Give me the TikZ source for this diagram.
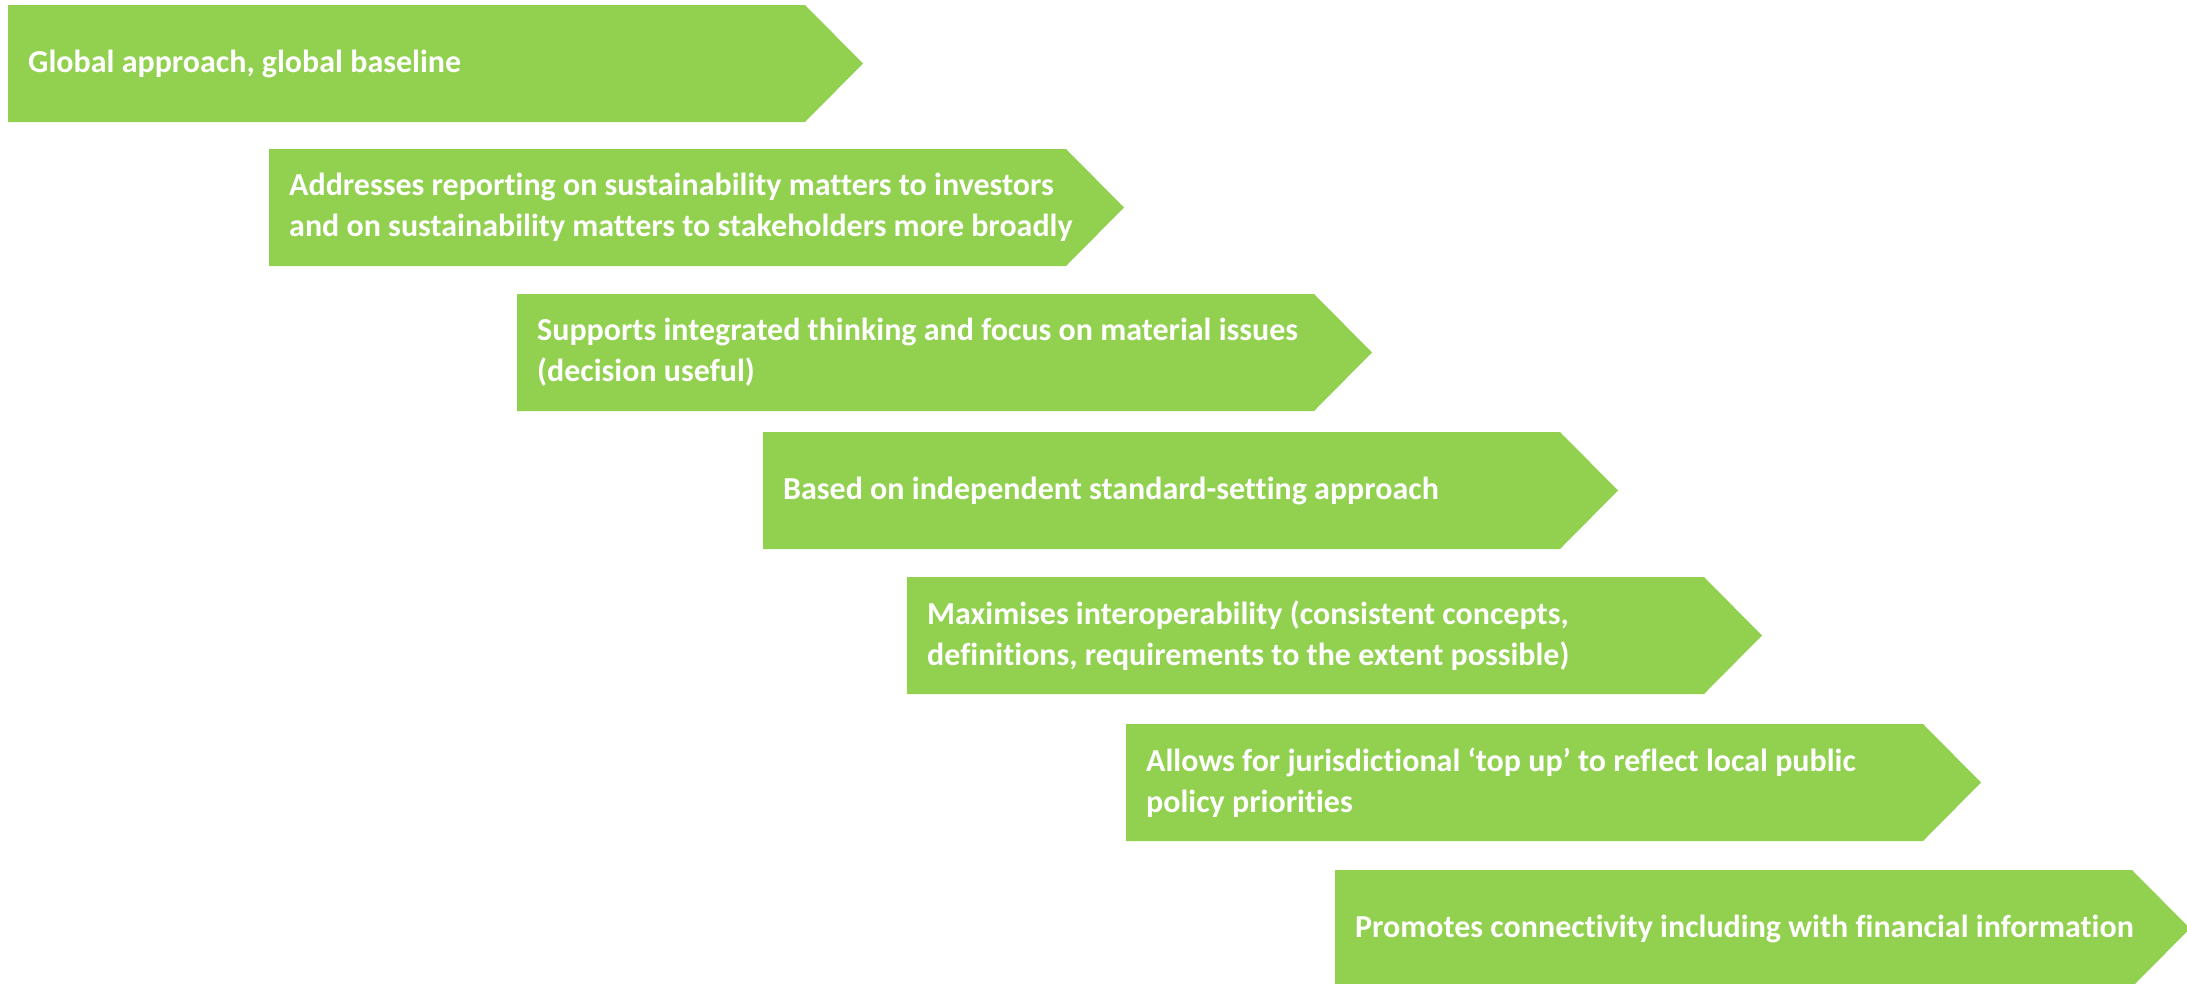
\documentclass[tikz,border=0pt]{standalone}
\usepackage{fontspec}
\setmainfont{Carlito}[Ligatures={NoCommon}]
\begin{document}
\definecolor{stepgreen}{HTML}{92D050}
\begin{tikzpicture}[x=1pt,y=-1pt,
  stepfill/.style={fill=stepgreen},
  steplabel/.style={anchor=west,inner sep=0pt,align=left,text=white,
    font=\fontsize{32}{41}\selectfont\bfseries}]
\useasboundingbox (0,0) rectangle (2187,983);
% one chevron step: name, left x, top y, text
\newcommand{\chevstep}[4]{%
  \fill[stepfill] (#2,#3) -- ++(797,0) -- ++(58,58.5) -- ++(-58,58.5)
    -- ++(-797,0) -- cycle;
  \node[steplabel] (#1) at ({#2+20},{#3+58.5}) {#4};
}
\chevstep{s1}{8}{5}{Global approach, global baseline}
\chevstep{s2}{269}{149}{Addresses reporting on sustainability matters to investors\\and on sustainability matters to stakeholders more broadly}
\chevstep{s3}{517}{294}{Supports integrated thinking and focus on material issues\\(decision useful)}
\chevstep{s4}{763}{432}{Based on independent standard-setting approach}
\chevstep{s5}{907}{577}{Maximises interoperability (consistent concepts,\\definitions, requirements to the extent possible)}
\chevstep{s6}{1126}{724}{Allows for jurisdictional ‘top up’ to reflect local public\\policy priorities}
\chevstep{s7}{1335}{870}{Promotes connectivity including with financial information}
\end{tikzpicture}
\end{document}
